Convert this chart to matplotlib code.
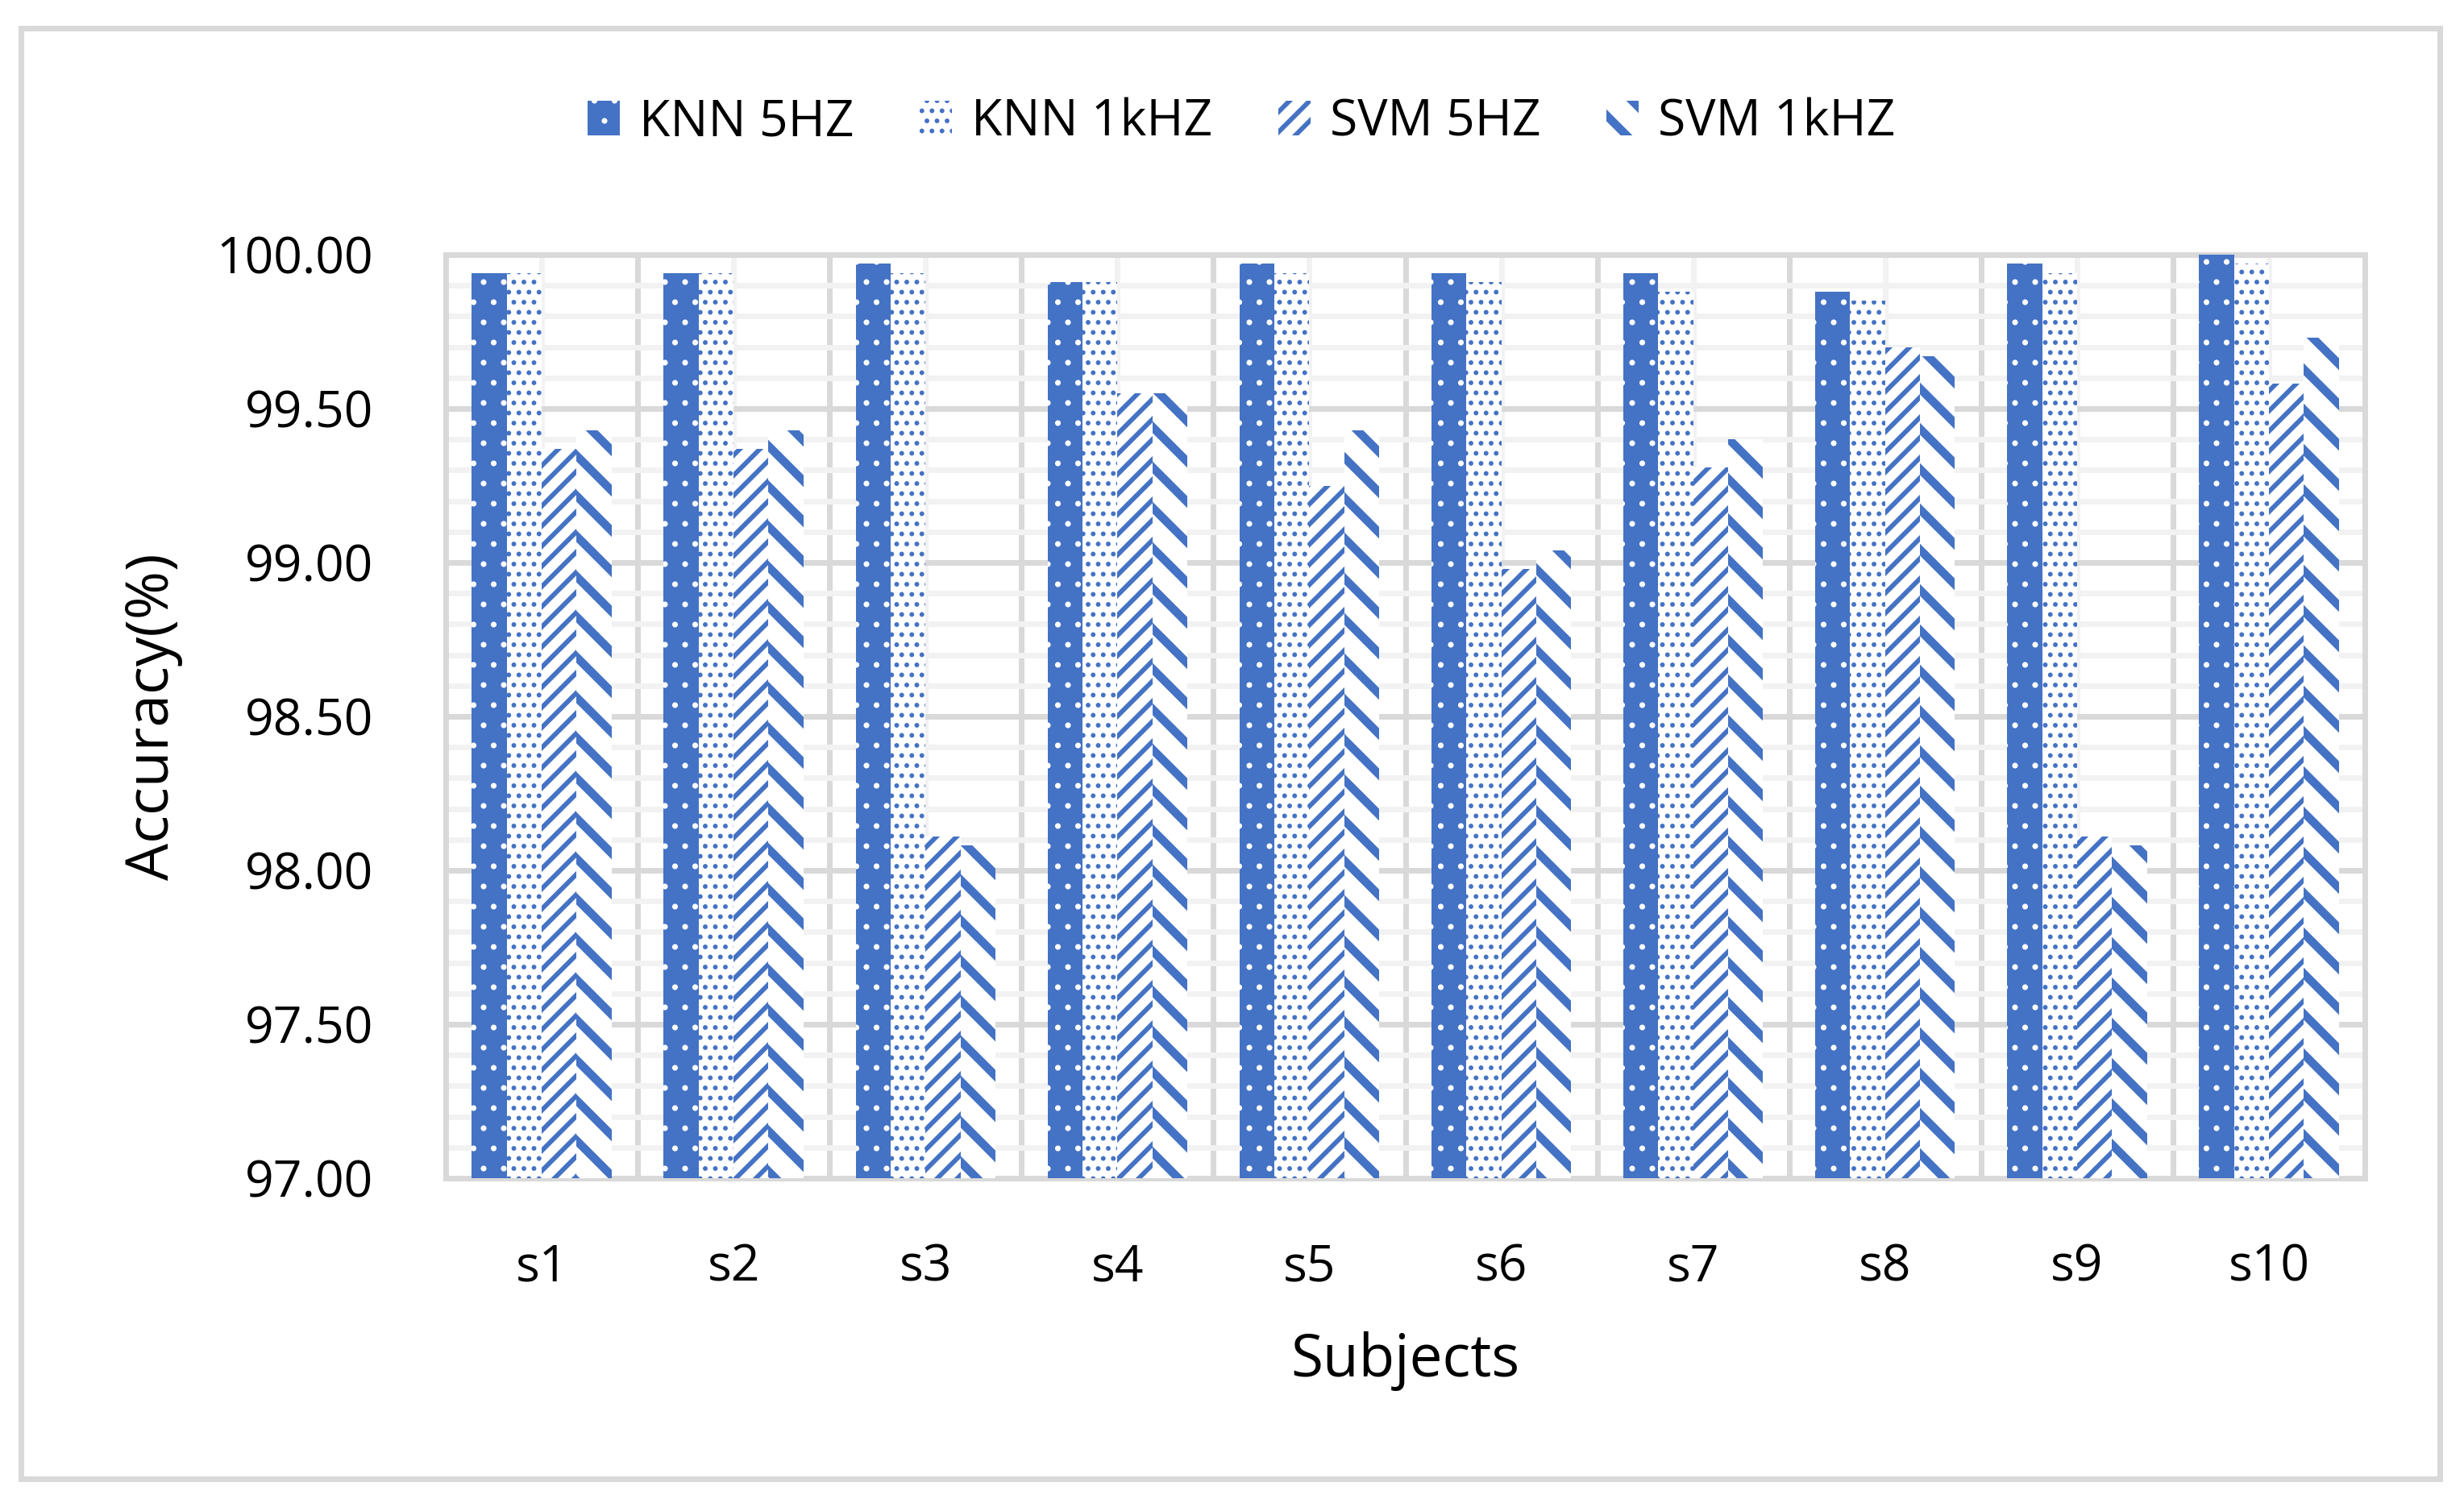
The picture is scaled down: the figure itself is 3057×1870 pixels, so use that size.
import matplotlib
matplotlib.use("Agg")
import matplotlib.pyplot as plt
from matplotlib.patches import Rectangle
from matplotlib.ticker import MultipleLocator, FixedLocator
import numpy as np

plt.rcParams['font.family'] = ['Open Sans', 'DejaVu Sans']

subjects = ["s1", "s2", "s3", "s4", "s5", "s6", "s7", "s8", "s9", "s10"]
series_names = ["KNN 5HZ", "KNN 1kHZ", "SVM 5HZ", "SVM 1kHZ"]
knn_5hz = [99.94, 99.94, 99.97, 99.91, 99.97, 99.94, 99.94, 99.88, 99.97, 100.00]
knn_1khz = [99.94, 99.94, 99.94, 99.91, 99.94, 99.91, 99.88, 99.85, 99.94, 99.97]
svm_5hz = [99.37, 99.37, 98.11, 99.55, 99.25, 98.98, 99.31, 99.70, 98.11, 99.58]
svm_1khz = [99.43, 99.43, 98.08, 99.55, 99.43, 99.04, 99.40, 99.67, 98.08, 99.73]
y_ticks = [97.0, 97.5, 98.0, 98.5, 99.0, 99.5, 100.0]

BLUE = "#4472C4"
GRID_MAJOR = "#D9D9D9"
GRID_MINOR = "#F2F2F2"
DPI = 150
W, H = 3057, 1870
px = 72.0 / DPI  # points per pixel

styles = [
    dict(facecolor=BLUE, edgecolor="white", hatch=".", hlw=1.0),
    dict(facecolor="white", edgecolor=BLUE, hatch="..", hlw=1.6),
    dict(facecolor="white", edgecolor=BLUE, hatch="//", hlw=2.8),
    dict(facecolor="white", edgecolor=BLUE, hatch="\\", hlw=5.0),
]
series = [knn_5hz, knn_1khz, svm_5hz, svm_1khz]


def with_hatch_lw(artist, lw):
    """Draw the artist with its own hatch line width."""
    if hasattr(artist, "set_hatch_linewidth"):
        try:
            artist.set_hatch_linewidth(lw)
        except Exception:
            pass
    orig = artist.draw

    def draw(renderer, _orig=orig, _lw=lw):
        with plt.rc_context({"hatch.linewidth": _lw}):
            _orig(renderer)
    artist.draw = draw


fig = plt.figure(figsize=(W / DPI, H / DPI), dpi=DPI)
fig.patch.set_facecolor("white")

left, right, top, bottom = 553, 2934, 316, 1462
ax = fig.add_axes([left / W, 1 - bottom / H, (right - left) / W, (bottom - top) / H])

x = np.arange(len(subjects))
bw = 0.182
containers = []
for k, (vals, st) in enumerate(zip(series, styles)):
    with plt.rc_context({"hatch.linewidth": st["hlw"]}):
        bars = ax.bar(x + (k - 1.5) * bw, vals, width=bw,
                      facecolor=st["facecolor"], edgecolor=st["edgecolor"],
                      hatch=st["hatch"], linewidth=0, zorder=3,
                      label=series_names[k])
    for b in bars:
        with_hatch_lw(b, st["hlw"])
    containers.append(bars)

ax.set_xlim(-0.5, len(subjects) - 0.5)
ax.set_ylim(97, 100)

ax.set_yticks(y_ticks)
ax.set_yticklabels([f"{v:.2f}" for v in y_ticks])
ax.yaxis.set_minor_locator(MultipleLocator(0.1))
ax.set_xticks(x)
ax.set_xticklabels(subjects)
ax.xaxis.set_minor_locator(FixedLocator(np.arange(0.5, len(subjects) - 0.5, 1.0)))

glw = 7 * px
ax.set_axisbelow(True)
ax.grid(which="major", axis="y", color=GRID_MAJOR, linewidth=glw, zorder=1)
ax.grid(which="minor", axis="y", color=GRID_MINOR, linewidth=glw, zorder=0.5)
ax.grid(which="minor", axis="x", color=GRID_MAJOR, linewidth=glw, zorder=1)
ax.grid(which="major", axis="x", color=GRID_MINOR, linewidth=glw, zorder=0.5)

ax.tick_params(axis="both", which="both", length=0)
ax.tick_params(axis="y", which="major", pad=90 * px, labelsize=30)
ax.tick_params(axis="x", which="major", pad=80 * px, labelsize=30)

for sp in ax.spines.values():
    sp.set_color(GRID_MAJOR)
    sp.set_linewidth(glw)
    sp.set_zorder(2)

ax.set_xlabel("Subjects", fontsize=35)
ax.set_ylabel("Accuracy(%)", fontsize=35)
ax.xaxis.set_label_coords(0.5, -0.166)
ax.yaxis.set_label_coords(-0.137, 0.5)

handles = [c[0] for c in containers]
leg = fig.legend(handles, series_names, loc="center",
                 bbox_to_anchor=(1540 / W, 1 - 152 / H), ncol=4, frameon=False,
                 fontsize=30, handlelength=0.64, handleheight=0.69,
                 handletextpad=0.39, columnspacing=1.3)
for p, st in zip(leg.get_patches(), styles):
    with_hatch_lw(p, st["hlw"])

border = Rectangle((26.5 / W, 1 - 1835 / H), 3000 / W, 1800 / H,
                   transform=fig.transFigure, fill=False,
                   edgecolor=GRID_MAJOR, linewidth=7 * px)
fig.add_artist(border)

fig.savefig("out.png", dpi=DPI, facecolor="white")
